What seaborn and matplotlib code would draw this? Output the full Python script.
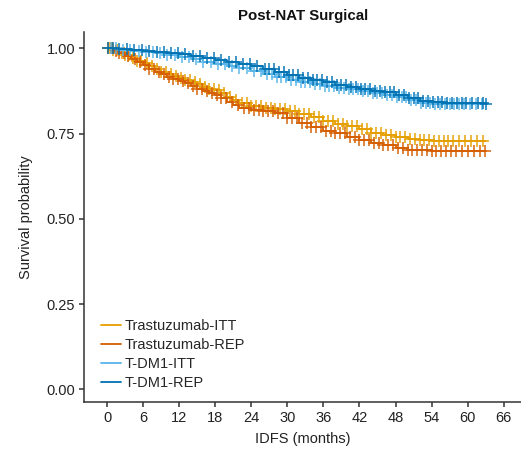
import numpy as np
import matplotlib
matplotlib.use("Agg")
import matplotlib.pyplot as plt
import seaborn as sns
import pandas as pd

sns.set_theme(style="ticks")
plt.rcParams['font.family'] = ['Liberation Sans', 'DejaVu Sans']

title = "Post-NAT Surgical"
series_names = ["Trastuzumab-ITT", "Trastuzumab-REP", "T-DM1-ITT", "T-DM1-REP"]
colors = ["#E69F00", "#D55E00", "#56B4E9", "#0072B2"]

# step-curve knots (months, survival probability)
tras_t = [0, 1, 2, 3, 4, 5, 6, 7, 8, 9, 10, 11, 12, 13, 14, 15, 16, 17, 18, 19, 20, 21, 22, 24, 26, 28, 30, 32, 34, 36, 38, 40, 42, 44, 46, 48, 50, 52, 54, 63]
tras_itt_s = [1.0, .994, .987, .980, .972, .964, .956, .947, .940, .932, .926, .920, .914, .907, .900, .894, .888, .882, .877, .868, .858, .848, .840, .831, .825, .821, .815, .808, .798, .788, .779, .771, .763, .753, .745, .739, .733, .730, .728, .727]
tras_rep_s = [1.0, .993, .985, .977, .969, .960, .952, .940, .932, .924, .917, .911, .905, .898, .890, .882, .874, .868, .862, .854, .843, .833, .826, .819, .815, .809, .795, .781, .768, .758, .751, .741, .731, .723, .716, .709, .703, .701, .700, .700]
tdm1_t = [0, 2, 4, 6, 8, 10, 12, 14, 16, 18, 20, 22, 24, 26, 28, 30, 32, 34, 36, 38, 40, 42, 44, 46, 48, 50, 52, 54, 56, 58, 60, 63]
tdm1_itt_s = [1.0, .996, .992, .989, .985, .980, .975, .968, .961, .954, .947, .941, .935, .925, .915, .908, .901, .896, .891, .885, .880, .875, .869, .863, .856, .848, .841, .837, .836, .836, .836, .836]
tdm1_rep_s = [1.0, .997, .995, .993, .990, .987, .982, .977, .971, .965, .960, .955, .949, .940, .931, .922, .914, .907, .900, .893, .887, .881, .876, .871, .863, .853, .845, .842, .841, .840, .839, .838]

# censoring times (months)
tras_itt_c = [0.4, 1.0, 1.6, 2.4, 3.0, 3.6, 4.2, 5.0, 5.6, 6.6, 7.4, 8.2, 9.0, 9.8, 10.6, 11.4, 12.2, 13.0, 13.8, 14.6, 15.4, 16.2, 17.0, 17.8, 18.6, 19.4, 20.4, 21.4, 22.4, 23.2, 24.0, 24.8, 25.6, 26.4, 27.2, 28.0, 28.8, 29.6, 30.4, 31.2, 32.0, 32.8, 33.6, 34.4, 35.2, 36.0, 36.8, 37.6, 38.4, 39.2, 40.0, 40.8, 41.6, 42.4, 43.2, 44.0, 44.8, 45.6, 46.4, 47.2, 48.0, 48.8, 49.6, 50.4, 51.2, 52.0, 52.8, 53.6, 54.4, 55.2, 56.0, 56.8, 57.6, 58.6, 59.6, 60.6, 61.6, 62.6]
tras_rep_c = [0.2, 0.8, 1.4, 2.0, 2.8, 3.4, 4.6, 5.4, 6.2, 7.0, 7.8, 8.6, 9.4, 10.2, 11.0, 11.8, 12.6, 13.4, 14.2, 15.0, 15.8, 16.6, 17.4, 18.2, 19.0, 19.8, 20.8, 21.8, 22.8, 23.6, 24.4, 25.2, 26.0, 26.8, 27.6, 28.4, 29.2, 30.0, 30.8, 31.6, 32.4, 33.2, 34.0, 34.8, 35.6, 36.4, 37.2, 38.0, 38.8, 39.6, 40.4, 41.2, 42.0, 42.8, 43.6, 44.4, 45.2, 46.0, 46.8, 47.6, 48.4, 49.2, 50.0, 50.8, 51.6, 52.4, 53.2, 54.0, 54.8, 55.6, 56.4, 57.2, 58.0, 59.0, 60.0, 61.0, 62.0, 62.9]
tdm1_itt_c = [0.6, 1.4, 2.6, 3.8, 5.2, 6.4, 7.6, 8.8, 10.0, 11.2, 12.4, 13.6, 14.8, 16.0, 17.2, 18.4, 19.6, 20.8, 22.0, 23.2, 24.4, 25.6, 26.6, 27.4, 28.2, 29.0, 29.8, 30.6, 31.4, 32.2, 33.0, 33.8, 34.6, 35.4, 36.2, 37.0, 37.8, 38.6, 39.4, 40.2, 41.0, 41.8, 42.6, 43.4, 44.2, 45.0, 45.8, 46.6, 47.4, 48.2, 49.0, 49.8, 50.6, 51.4, 52.2, 53.0, 53.8, 54.6, 55.4, 56.2, 57.0, 57.8, 58.6, 59.4, 60.4, 61.4, 62.4]
tdm1_rep_c = [0.2, 1.0, 2.0, 3.2, 4.4, 5.8, 7.0, 8.2, 9.4, 10.6, 11.8, 13.0, 14.2, 15.4, 16.6, 17.8, 19.0, 20.2, 21.4, 22.6, 23.8, 25.0, 26.2, 27.0, 27.8, 28.6, 29.4, 30.2, 31.0, 31.8, 32.6, 33.4, 34.2, 35.0, 35.8, 36.6, 37.4, 38.2, 39.0, 39.8, 40.6, 41.4, 42.2, 43.0, 43.8, 44.6, 45.4, 46.2, 47.0, 47.8, 48.6, 49.4, 50.2, 51.0, 51.8, 52.6, 53.4, 54.2, 55.0, 55.8, 56.6, 57.4, 58.2, 59.0, 59.8, 60.8, 61.8, 62.6, 63.0]

curves = [
    (tras_t, tras_itt_s, tras_itt_c),
    (tras_t, tras_rep_s, tras_rep_c),
    (tdm1_t, tdm1_itt_s, tdm1_itt_c),
    (tdm1_t, tdm1_rep_s, tdm1_rep_c),
]

fig = plt.figure(figsize=(5.21, 4.53), dpi=100)
ax = fig.add_axes([0.1618, 0.1126, 0.8382, 0.8168])

for name, col, (t, s, c) in zip(series_names, colors, curves):
    df = pd.DataFrame({"t": t, "s": s})
    sns.lineplot(data=df, x="t", y="s", ax=ax, color=col, lw=1.3,
                 drawstyle="steps-post", label=name, estimator=None)
    t_arr = np.asarray(t)
    s_arr = np.asarray(s)
    idx = np.searchsorted(t_arr, np.asarray(c), side="right") - 1
    ax.plot(c, s_arr[idx], linestyle="none", marker="+", markersize=8,
            mew=1.4, color=col, alpha=0.75)

ax.set_xlim(-3.83, 68.9)
ax.set_ylim(-0.037, 1.048)
ax.set_xticks(np.arange(0, 67, 6))
ax.set_yticks([0, 0.25, 0.5, 0.75, 1.0])
ax.set_yticklabels(["0.00", "0.25", "0.50", "0.75", "1.00"])
ax.tick_params(axis="both", labelsize=10.5, length=3.5, width=1.1, color="#333333",
               labelcolor="#222222", direction="out", pad=3)
for sp in ["top", "right"]:
    ax.spines[sp].set_visible(False)
for sp in ["left", "bottom"]:
    ax.spines[sp].set_color("#333333")
    ax.spines[sp].set_linewidth(1.1)

ax.set_xlabel("IDFS (months)", fontsize=10.5, color="#222222", labelpad=5)
ax.set_ylabel("Survival probability", fontsize=10.5, color="#222222", labelpad=10)
ax.set_title(title, fontsize=10.8, fontweight="bold", color="#111111", pad=8.5)

leg = ax.legend(loc="lower left", frameon=False, fontsize=10.5, handlelength=1.4,
                handletextpad=0.25, labelspacing=0.35, borderaxespad=0.3,
                bbox_to_anchor=(0.014, 0.005))
for line in leg.get_lines():
    line.set_linewidth(1.3)

fig.savefig("out.png", dpi=100)
